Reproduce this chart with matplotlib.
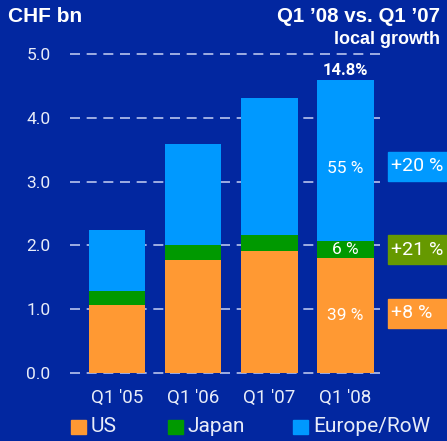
import matplotlib
matplotlib.use('Agg')
import matplotlib.pyplot as plt
import numpy as np

# data (CHF bn)
quarters = ["Q1 '05", "Q1 '06", "Q1 '07", "Q1 '08"]
us = [1.07, 1.77, 1.91, 1.80]
japan = [0.22, 0.23, 0.25, 0.27]
europe = [0.95, 1.59, 2.15, 2.52]
share_labels = ['39 %', '6 %', '55 %']
total_label = '14.8%'
growth = ['+8 %', '+21 %', '+20 %']

bg = '#0227a0'
c_us = '#ff9933'
c_jp = '#009900'
c_eu = '#0099ff'
c_olive = '#669900'
txt = '#e8ecf8'
grid_c = '#b8c4ee'

plt.rcParams['font.family'] = ['Roboto', 'DejaVu Sans']

fig = plt.figure(figsize=(4.47, 4.41), dpi=100, facecolor=bg)
ax = fig.add_axes([70 / 447, 1 - 375 / 441, 312 / 447, 323 / 441], facecolor=bg)

x = np.arange(len(quarters))
w = 0.74
us = np.array(us)
japan = np.array(japan)
europe = np.array(europe)

# dashed grid behind bars
for yv in np.arange(0, 5.01, 1.0):
    ax.axhline(yv, color=grid_c, lw=1.2, dashes=(6, 4), zorder=0, clip_on=False)

ax.bar(x, us, w, color=c_us, zorder=2)
ax.bar(x, japan, w, bottom=us, color=c_jp, zorder=2)
ax.bar(x, europe, w, bottom=us + japan, color=c_eu, zorder=2)

ax.set_xlim(-0.62, 3.48)
ax.set_ylim(-0.03, 5.03)
ax.set_yticks(np.arange(0, 5.01, 1.0))
ax.set_yticklabels(['%.1f' % v for v in np.arange(0, 5.01, 1.0)])
ax.set_xticks(x)
ax.set_xticklabels(quarters)
ax.tick_params(axis='both', length=0, colors=txt)
ax.tick_params(axis='y', pad=14, labelsize=12.5)
ax.tick_params(axis='x', pad=10, labelsize=13.5)
for s in ax.spines.values():
    s.set_visible(False)

# labels inside last bar
i = 3
ax.text(i, us[i] / 2, share_labels[0], ha='center', va='center', color='white', fontsize=12.5, zorder=3)
ax.text(i, us[i] + japan[i] / 2, share_labels[1], ha='center', va='center', color='white', fontsize=12.5, zorder=3)
ax.text(i, us[i] + japan[i] + europe[i] / 2 - 0.12, share_labels[2], ha='center', va='center', color='white',
        fontsize=12.5, zorder=3)
ax.text(i, us[i] + japan[i] + europe[i] + 0.03, total_label, ha='center', va='bottom', color='white',
        fontsize=12, fontweight='bold', zorder=3)

# growth boxes on the right (figure pixels)
box_y = [313.5, 249.5, 166]
box_c = [c_us, c_olive, c_eu]
for g, yc, bc in zip(growth, box_y, box_c):
    fig.patches.append(plt.Rectangle((388 / 447, 1 - (yc + 14.5) / 441), 70 / 447, 29 / 441,
                                     transform=fig.transFigure, color=bc, figure=fig))
    fig.text(391 / 447, 1 - yc / 441, g, ha='left', va='center', color='white', fontsize=14)

# titles
fig.text(8 / 447, 1 - 17 / 441, 'CHF bn', ha='left', va='center', color='white', fontsize=15,
         fontweight='bold', family=['Liberation Sans', 'DejaVu Sans'])
fig.text(440 / 447, 1 - 17 / 441, "Q1 \u201908 vs. Q1 \u201907", ha='right', va='center', color='white',
         fontsize=14.8, fontweight='bold', family=['Liberation Sans', 'DejaVu Sans'])
fig.text(440 / 447, 1 - 40 / 441, 'local growth', ha='right', va='center', color='white',
         fontsize=13, fontweight='bold', family=['Liberation Sans', 'DejaVu Sans'])

# legend
leg_items = [('US', c_us, 71), ('Japan', c_jp, 168), ('Europe/RoW', c_eu, 293)]
for name, col, px in leg_items:
    fig.patches.append(plt.Rectangle((px / 447, 1 - 434 / 441), 15 / 447, 14 / 441,
                                     transform=fig.transFigure, color=col, figure=fig))
    fig.text((px + 20) / 447, 1 - 427 / 441, name, ha='left', va='center', color=txt, fontsize=15)

fig.savefig('out.png', dpi=100, facecolor=bg)
